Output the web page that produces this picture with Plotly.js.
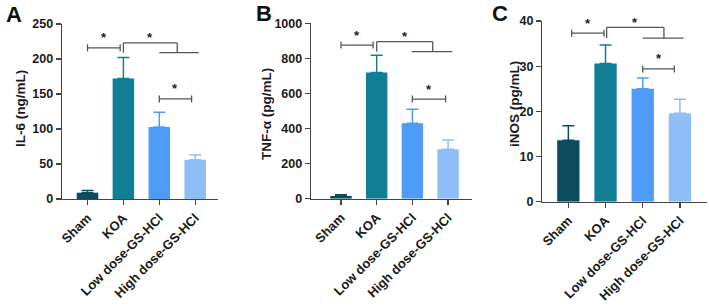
<!DOCTYPE html>
<html>
<head>
<meta charset="utf-8">
<script src="https://cdn.plot.ly/plotly-3.0.1.min.js"></script>
<style>html,body{margin:0;padding:0;background:#fff}#chart{width:709px;height:308px}</style>
</head>
<body>
<div id="chart"></div>
<script>
// ---- data ----
const categories = ['Sham', 'KOA', 'Low dose-GS-HCl', 'High dose-GS-HCl'];
const il6Mean = [9, 172, 103, 56];
const il6SD = [3, 30, 21, 7];
const tnfMean = [15, 720, 430, 282];
const tnfSD = [8, 98, 80, 53];
const inosMean = [13.6, 30.6, 25.0, 19.6];
const inosSD = [3.2, 4.1, 2.4, 3.1];
const panelLetters = ['A', 'B', 'C'];
const yTitles = ['IL-6 (ng/mL)', 'TNF-α (pg/mL)', 'iNOS (pg/mL)'];
const yMax = [250, 1000, 40];
const yStep = [50, 200, 10];
// significance brackets (category index positions, data-unit heights)
const pairSK = [{x0: 0, x1: 0.91, y: 216}, {x0: 0, x1: 0.9, y: 876}, {x0: 0.09, x1: 0.96, y: 37.3}];
const groupBr = [
  {x0: 1, xm: 2.5, xl0: 2, xl1: 3.1, top: 223, low: 209},
  {x0: 1, xm: 2.57, xl0: 1.98, xl1: 3.11, top: 895, low: 838},
  {x0: 1.03, xm: 2.57, xl0: 2, xl1: 3.1, top: 38.6, low: 36.2}
];
const pairLH = [{x0: 2, x1: 2.9, y: 143}, {x0: 2, x1: 2.93, y: 568}, {x0: 2, x1: 2.85, y: 29.4}];

// ---- style ----
const colors = ['#0b4c5f', '#117e93', '#4e9cf6', '#8fbef6'];
const FONT = 'Arial, "Liberation Sans", sans-serif';
const lineCol = '#555555';
const W = 709, H = 308;
const xDom = [[62 / W, 218 / W], [311 / W, 472 / W], [542.3 / W, 706.7 / W]];
const yDomPx = [[24, 199], [23.3, 198.7], [21, 201.7]];
const xRanges = [[-0.71, 3.635], [-0.84, 3.67], [-0.70, 3.72]];
const letterPos = [[13.5, 15], [263.5, 14], [500, 14]];
const titlePos = [[20, 109], [267, 114], [514, 104]];

const means = [il6Mean, tnfMean, inosMean];
const sds = [il6SD, tnfSD, inosSD];

const traces = [];
const layout = {
  width: W, height: H,
  margin: {l: 0, r: 0, t: 0, b: 0},
  paper_bgcolor: '#fff', plot_bgcolor: '#fff',
  showlegend: false, barmode: 'overlay',
  font: {family: FONT, color: '#222'},
  shapes: [], annotations: []
};

for (let p = 0; p < 3; p++) {
  const sfx = p === 0 ? '' : String(p + 1);
  const xa = 'x' + sfx, ya = 'y' + sfx;
  for (let i = 0; i < categories.length; i++) {
    traces.push({
      type: 'bar', xaxis: xa, yaxis: ya,
      x: [categories[i]], y: [means[p][i]], width: 0.6,
      marker: {color: colors[i], line: {width: 0}},
      error_y: {type: 'data', symmetric: false, array: [sds[p][i]], arrayminus: [0],
        color: colors[i], thickness: 1.5, width: 6},
      hoverinfo: 'skip'
    });
  }
  const yd = yDomPx[p];
  layout['xaxis' + sfx] = {
    domain: xDom[p], anchor: ya, type: 'category',
    categoryorder: 'array', categoryarray: categories, range: xRanges[p],
    showline: true, linecolor: '#444', linewidth: 1.3,
    ticks: 'outside', ticklen: 5, tickwidth: 1.3, tickcolor: '#444',
    tickangle: -45, tickfont: {family: FONT, size: 13, weight: 700, color: '#1a1a1a'},
    showgrid: false, zeroline: false, fixedrange: true
  };
  layout['yaxis' + sfx] = {
    domain: [(H - yd[1]) / H, (H - yd[0]) / H], anchor: xa,
    range: [0, yMax[p]], dtick: yStep[p], tick0: 0,
    showline: true, linecolor: '#444', linewidth: 1.3,
    ticks: 'outside', ticklen: 5, tickwidth: 1.3, tickcolor: '#444',
    tickfont: {family: FONT, size: 12.5, weight: 700, color: '#1a1a1a'},
    showgrid: false, zeroline: false, fixedrange: true
  };
  const ln = (x0, y0, x1, y1) => layout.shapes.push({type: 'line', xref: xa, yref: ya,
    x0: x0, y0: y0, x1: x1, y1: y1, line: {color: lineCol, width: 1.3}});
  const cap = (x, y) => layout.shapes.push({type: 'line', xref: xa, yref: ya,
    ysizemode: 'pixel', yanchor: y, x0: x, x1: x, y0: -3.5, y1: 3.5, line: {color: lineCol, width: 1.3}});
  const star = (x, y, shift) => layout.annotations.push({xref: xa, yref: ya, x: x, y: y,
    text: '*', showarrow: false, yanchor: 'middle', yshift: shift,
    font: {family: FONT, size: 13, weight: 700, color: '#222'}});
  // Sham vs KOA
  const a = pairSK[p];
  ln(a.x0, a.y, a.x1, a.y); cap(a.x0, a.y); cap(a.x1, a.y); star((a.x0 + a.x1) / 2, a.y, 10);
  // KOA vs treatment groups
  const g = groupBr[p];
  ln(g.x0, g.top, g.xm, g.top); ln(g.x0, g.top, g.x0, g.low); ln(g.xm, g.top, g.xm, g.low);
  ln(g.xl0, g.low, g.xl1, g.low); star((g.x0 + g.xm) / 2, g.top, 5);
  // Low vs High
  const b = pairLH[p];
  ln(b.x0, b.y, b.x1, b.y); cap(b.x0, b.y); cap(b.x1, b.y); star((b.x0 + b.x1) / 2, b.y, 10);
  // panel letter
  layout.annotations.push({xref: 'paper', yref: 'paper', x: letterPos[p][0] / W, y: 1 - letterPos[p][1] / H,
    text: panelLetters[p], showarrow: false, xanchor: 'center', yanchor: 'middle',
    font: {family: FONT, size: 22, weight: 700, color: '#111'}});
  // y title
  layout.annotations.push({xref: 'paper', yref: 'paper', x: titlePos[p][0] / W, y: 1 - titlePos[p][1] / H,
    text: yTitles[p], showarrow: false, textangle: -90, xanchor: 'center', yanchor: 'middle',
    font: {family: FONT, size: 13.5, weight: 700, color: '#1a1a1a'}});
}

Plotly.newPlot('chart', traces, layout, {staticPlot: true, displayModeBar: false});
</script>
</body>
</html>
